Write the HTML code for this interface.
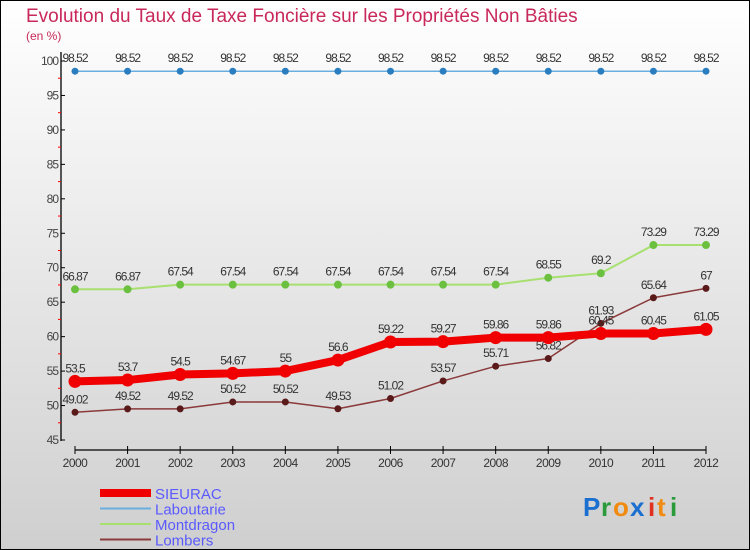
<!DOCTYPE html>
<html><head><meta charset="utf-8"><style>
body{margin:0;width:750px;height:550px;overflow:hidden;font-family:"Liberation Sans",sans-serif}
svg{display:block}
</style></head><body>
<svg id="chart" width="750" height="550" xmlns="http://www.w3.org/2000/svg">
<defs><linearGradient id="bg" x1="0" y1="0" x2="0" y2="1"><stop offset="0" stop-color="#ffffff"/><stop offset="1" stop-color="#cfcfcf"/></linearGradient></defs>
<rect x="0.5" y="0.5" width="749" height="549" fill="url(#bg)" stroke="#000"/>
<text x="26" y="22" font-size="19" fill="#c8285a">Evolution du Taux de Taxe Foncière sur les Propriétés Non Bâties</text>
<text x="26" y="40" font-size="12" fill="#c8285a">(en %)</text>
<g id="axes"></g><g id="series"></g><g id="legend"></g>
<g font-size="26" font-weight="bold">
<text x="583" y="516" fill="#1a6fd0">P</text><text x="601" y="516" fill="#2a9a3a">r</text><text x="613" y="516" fill="#f08a10">o</text><text x="630" y="516" fill="#1a6fd0">x</text><text x="648" y="516" fill="#e03020">i</text><text x="657" y="516" fill="#f08a10">t</text><text x="670" y="516" fill="#2a9a3a">i</text>
</g>
</svg>
<script>
const years=[2000,2001,2002,2003,2004,2005,2006,2007,2008,2009,2010,2011,2012];
const yTicks=[45,50,55,60,65,70,75,80,85,90,95,100];
const sieurac=[53.5,53.7,54.5,54.67,55,56.6,59.22,59.27,59.86,59.86,60.45,60.45,61.05];
const laboutarie=[98.52,98.52,98.52,98.52,98.52,98.52,98.52,98.52,98.52,98.52,98.52,98.52,98.52];
const montdragon=[66.87,66.87,67.54,67.54,67.54,67.54,67.54,67.54,67.54,68.55,69.2,73.29,73.29];
const lombers=[49.02,49.52,49.52,50.52,50.52,49.53,51.02,53.57,55.71,56.82,61.93,65.64,67];
const NS="http://www.w3.org/2000/svg";
const X=i=>75+i*(706-75)/(years.length-1);
const Y=v=>440-(v-45)*(440-61)/55;
function mk(t,a,p){const e=document.createElementNS(NS,t);for(const k in a)e.setAttribute(k,a[k]);p.appendChild(e);return e;}
const ax=document.getElementById('axes');
let l=mk('line',{x1:61,y1:52,x2:61,y2:441,stroke:'#000','stroke-width':1.3},ax);


yTicks.forEach(v=>{
 mk('line',{x1:61,y1:Y(v),x2:65,y2:Y(v),stroke:'#000'},ax);
 const t=mk('text',{x:58,y:Y(v)+4,'text-anchor':'end','font-size':12,fill:'#444','letter-spacing':'-1'},ax);t.textContent=v;
 
 
 if(v<100) mk('line',{x1:58,y1:Y(v+2.5),x2:61,y2:Y(v+2.5),stroke:'#f00'},ax);
});
l=mk('line',{x1:75,y1:450,x2:706,y2:450,stroke:'#000','stroke-width':1.3},ax);


years.forEach((y,i)=>{
 mk('line',{x1:X(i),y1:446,x2:X(i),y2:454,stroke:'#000'},ax);
 const t=mk('text',{x:X(i),y:467,'text-anchor':'middle','font-size':12,fill:'#333','letter-spacing':'-0.5'},ax);t.textContent=y;
 
 
});
const sg=document.getElementById('series');
function draw(name,data,color,dot,w,r){
 const g=mk('g',{},sg);
 
 
 mk('polyline',{points:data.map((v,i)=>X(i)+','+Y(v)).join(' '),fill:'none',stroke:color,'stroke-width':w,'stroke-linejoin':'round'},g);
 data.forEach((v,i)=>{
  const c=mk('circle',{cx:X(i),cy:Y(v),r:r,fill:dot},g);
  
  
  const t=mk('text',{x:X(i),y:Y(v)-9,'text-anchor':'middle','font-size':12,fill:'#333','letter-spacing':'-1'},g);t.textContent=v;
  
  
 });
}
draw('laboutarie',laboutarie,'#6aaee0','#2a7ec0',1.5,3.5);
draw('montdragon',montdragon,'#a8e070','#6cc040',2,4);
draw('lombers',lombers,'#8a3a3a','#5a1a1a',1.5,3.5);
draw('sieurac',sieurac,'#f00000','#f00000',8,6.5);
const lg=document.getElementById('legend');
[['SIEURAC','#f00000',8],['Laboutarie','#6aaee0',2],['Montdragon','#a8e070',2],['Lombers','#8a3a3a',2]].forEach((e,i)=>{
 const y=493+i*15.5;
 const g=mk('g',{},lg);
 
 
 mk('line',{x1:100,y1:y,x2:151,y2:y,stroke:e[1],'stroke-width':e[2]},g);
 const t=mk('text',{x:155,y:y+6,'font-size':15,fill:'#5a5aff'},g);t.textContent=e[0];
});
</script>
</body></html>
